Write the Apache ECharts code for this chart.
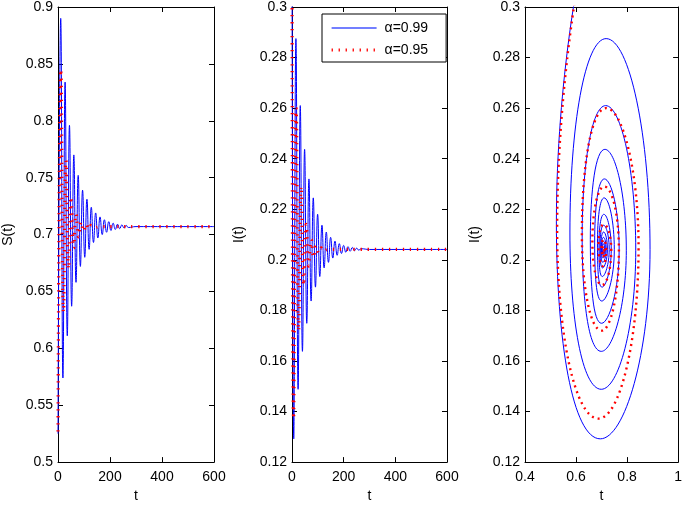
<!DOCTYPE html>
<html><head><meta charset="utf-8">
<script src="https://cdn.jsdelivr.net/npm/echarts@6.0.0/dist/echarts.min.js"></script>
<style>html,body{margin:0;padding:0;background:#fff}#c{width:685px;height:508px}</style>
</head><body><div id="c"></div>
<script>
// ---------- data ----------
// alpha = 0.99 : S(t) extrema
const tS_a99 = [0, 10.5, 18.9, 27.3, 35.7, 44.1, 52.5, 60.9, 69.3, 77.7, 86.1, 94.5, 102.9, 111.3, 119.7, 128.1, 136.5, 144.9, 153.3, 161.7, 170.1, 178.5, 186.9, 195.3, 203.7, 212.1, 220.5, 228.9, 237.3, 245.7, 254.1, 262.5, 270.9, 300, 600];
const S_a99  = [0.525, 0.890, 0.574, 0.834, 0.611, 0.796, 0.637, 0.770, 0.658, 0.752, 0.672, 0.739, 0.680, 0.731, 0.687, 0.724, 0.693, 0.719, 0.697, 0.7155, 0.700, 0.713, 0.702, 0.7113, 0.7035, 0.710, 0.7045, 0.7091, 0.7052, 0.7085, 0.7058, 0.708, 0.7062, 0.707, 0.707];
// alpha = 0.99 : I(t) extrema
const tI_a99 = [0, 6.8, 15.2, 23.6, 32.0, 40.4, 48.8, 57.2, 65.6, 74.0, 82.4, 90.8, 99.2, 107.6, 116.0, 124.4, 132.8, 141.2, 149.6, 158.0, 166.4, 174.8, 183.2, 191.6, 200.0, 208.4, 216.8, 225.2, 233.6, 242.0, 250.4, 258.8, 267.2, 300, 600];
const I_a99  = [0.33, 0.1292, 0.2875, 0.1488, 0.261, 0.1638, 0.2437, 0.1749, 0.232, 0.1837, 0.2245, 0.1892, 0.218, 0.1934, 0.2137, 0.1968, 0.211, 0.199, 0.2089, 0.2007, 0.2074, 0.2018, 0.2064, 0.2025, 0.2057, 0.203, 0.2052, 0.2034, 0.2049, 0.2036, 0.2046, 0.2038, 0.2044, 0.2041, 0.2041];
// alpha = 0.95 : S(t) extrema
const tS_a95 = [0, 11, 21, 30.5, 40.5, 50, 60, 69.5, 79.5, 89, 99, 108.5, 118.5, 128, 138, 160, 300, 600];
const S_a95  = [0.527, 0.845, 0.632, 0.765, 0.670, 0.733, 0.688, 0.718, 0.698, 0.711, 0.703, 0.709, 0.705, 0.708, 0.706, 0.707, 0.707, 0.707];
// alpha = 0.95 : I(t) extrema
const tI_a95 = [0, 6, 16, 25.5, 35.5, 45, 55, 64.5, 74.5, 84, 94, 103.5, 113.5, 123, 140, 300, 600];
const I_a95  = [0.33, 0.1372, 0.260, 0.172, 0.229, 0.190, 0.214, 0.1975, 0.208, 0.201, 0.2055, 0.2028, 0.2047, 0.2035, 0.2041, 0.2041, 0.2041];
// phase plane (S, I) : left / bottom / right / top of each loop
const Sph_a99 = [0.625, 0.523, 0.695, 0.890, 0.718, 0.576, 0.699, 0.834, 0.716, 0.624, 0.699, 0.797, 0.713, 0.656, 0.700, 0.769, 0.711, 0.673, 0.701, 0.750, 0.710, 0.684, 0.702, 0.738, 0.709, 0.690, 0.703, 0.730, 0.708, 0.694, 0.704, 0.723, 0.708, 0.697, 0.705, 0.718, 0.7075, 0.699, 0.7055, 0.715, 0.7072, 0.701, 0.706, 0.712, 0.707, 0.703, 0.7063, 0.7095, 0.707];
const Iph_a99 = [0.32, 0.215, 0.1292, 0.204, 0.2875, 0.211, 0.1488, 0.2038, 0.261, 0.209, 0.1638, 0.2038, 0.2437, 0.208, 0.1749, 0.204, 0.232, 0.207, 0.1837, 0.204, 0.2245, 0.2065, 0.1892, 0.204, 0.218, 0.2058, 0.1934, 0.2041, 0.2137, 0.2052, 0.1968, 0.2041, 0.211, 0.2048, 0.199, 0.2041, 0.2089, 0.2045, 0.2007, 0.2041, 0.2074, 0.2043, 0.2018, 0.2041, 0.2064, 0.2042, 0.2025, 0.2041, 0.2041];
const Sph_a95 = [0.625, 0.526, 0.688, 0.845, 0.718, 0.623, 0.700, 0.768, 0.711, 0.664, 0.702, 0.738, 0.709, 0.688, 0.705, 0.718, 0.708, 0.700, 0.706, 0.711, 0.7072, 0.704, 0.7066, 0.708, 0.707];
const Iph_a95 = [0.32, 0.212, 0.1372, 0.205, 0.260, 0.210, 0.172, 0.204, 0.229, 0.207, 0.190, 0.204, 0.214, 0.2055, 0.1975, 0.2041, 0.208, 0.2048, 0.201, 0.2041, 0.2055, 0.2043, 0.2028, 0.2041, 0.2041];
const seriesNames = ['α=0.99', 'α=0.95'];
const yNames = ['S(t)', 'I(t)', 'I(t)'];
const xName = 't';

// ---------- chart ----------
const FONT = '"Liberation Sans", Arial, Helvetica, sans-serif';
const zip = (xs, ys) => xs.map((x, i) => [x, ys[i]]);
const chart = echarts.init(document.getElementById('c'), null, {renderer: 'canvas'});

const grids = [
  {left: 58, top: 7, width: 156, height: 459},
  {left: 292, top: 7, width: 155, height: 459},
  {left: 525, top: 7, width: 156, height: 459}
];
const xr = [[0, 600, 200], [0, 600, 200], [0.4, 1, 0.2]];
const yr = [[0.5, 0.9, 0.05], [0.12, 0.3, 0.02], [0.12, 0.3, 0.02]];
const yGap = [43, 46, 43];

const lineBlack = {show: true, onZero: false, lineStyle: {color: '#000', width: 1}};
const tick = {show: true, inside: true, length: 5, lineStyle: {color: '#000', width: 1}};
const lbl = {color: '#000', fontSize: 14, fontFamily: FONT};

const xAxis = [], yAxis = [];
grids.forEach((g, i) => {
  const [x0, x1, xi] = xr[i], [y0, y1, yi] = yr[i];
  xAxis.push({type: 'value', gridIndex: i, min: x0, max: x1, interval: xi, position: 'bottom',
    name: xName, nameLocation: 'middle', nameGap: 22, nameTextStyle: lbl,
    axisLine: lineBlack, axisTick: tick, axisLabel: Object.assign({margin: 8}, lbl), splitLine: {show: false}});
  xAxis.push({type: 'value', gridIndex: i, min: x0, max: x1, interval: xi, position: 'top',
    axisLine: lineBlack, axisTick: tick, axisLabel: {show: false}, splitLine: {show: false}});
  yAxis.push({type: 'value', gridIndex: i, min: y0, max: y1, interval: yi, position: 'left',
    name: yNames[i], nameLocation: 'middle', nameGap: yGap[i], nameTextStyle: lbl,
    axisLine: lineBlack, axisTick: tick, axisLabel: Object.assign({margin: 5}, lbl), splitLine: {show: false}});
  yAxis.push({type: 'value', gridIndex: i, min: y0, max: y1, interval: yi, position: 'right',
    axisLine: lineBlack, axisTick: tick, axisLabel: {show: false}, splitLine: {show: false}});
});

const blueStyle = {color: '#0000ff', width: 1};
const redStyle = {color: '#ff0000', width: 3.2, type: [1.3, 5.7], cap: 'butt'};
const redPhase = {color: '#ff0000', width: 2.4, type: [2, 4], cap: 'butt'};
function mk(name, grid, data, style, smooth) {
  return {type: 'line', name: name, xAxisIndex: 2 * grid, yAxisIndex: 2 * grid, data: data,
    smooth: smooth, symbol: 'none', showSymbol: false, lineStyle: style, itemStyle: {color: style.color},
    clip: true, silent: true, animation: false};
}
const series = [
  mk(seriesNames[0], 0, zip(tS_a99, S_a99), blueStyle, 0.5),
  mk(seriesNames[1], 0, zip(tS_a95, S_a95), redStyle, 0.5),
  mk(seriesNames[0], 1, zip(tI_a99, I_a99), blueStyle, 0.5),
  mk(seriesNames[1], 1, zip(tI_a95, I_a95), redStyle, 0.5),
  mk(seriesNames[0], 2, zip(Sph_a99, Iph_a99), blueStyle, 0.55),
  mk(seriesNames[1], 2, zip(Sph_a95, Iph_a95), redPhase, 0.55)
];

chart.setOption({
  animation: false,
  backgroundColor: '#fff',
  grid: grids,
  xAxis: xAxis,
  yAxis: yAxis,
  legend: {
    left: 322, top: 14, orient: 'vertical', itemWidth: 45, itemHeight: 14, itemGap: 8,
    padding: [7, 18, 5, 8], borderColor: '#000', borderWidth: 1, backgroundColor: '#fff',
    textStyle: {color: '#000', fontSize: 14, fontFamily: FONT, padding: [0, 0, 0, 3]},
    itemStyle: {opacity: 0},
    selectedMode: false,
    data: [
      {name: seriesNames[0], lineStyle: {color: '#4455ff', width: 1.3, type: 'solid'}},
      {name: seriesNames[1], lineStyle: {color: '#ff0000', width: 3.2, type: [1.3, 5.7], cap: 'butt'}}
    ]
  },
  series: series
});
</script></body></html>
